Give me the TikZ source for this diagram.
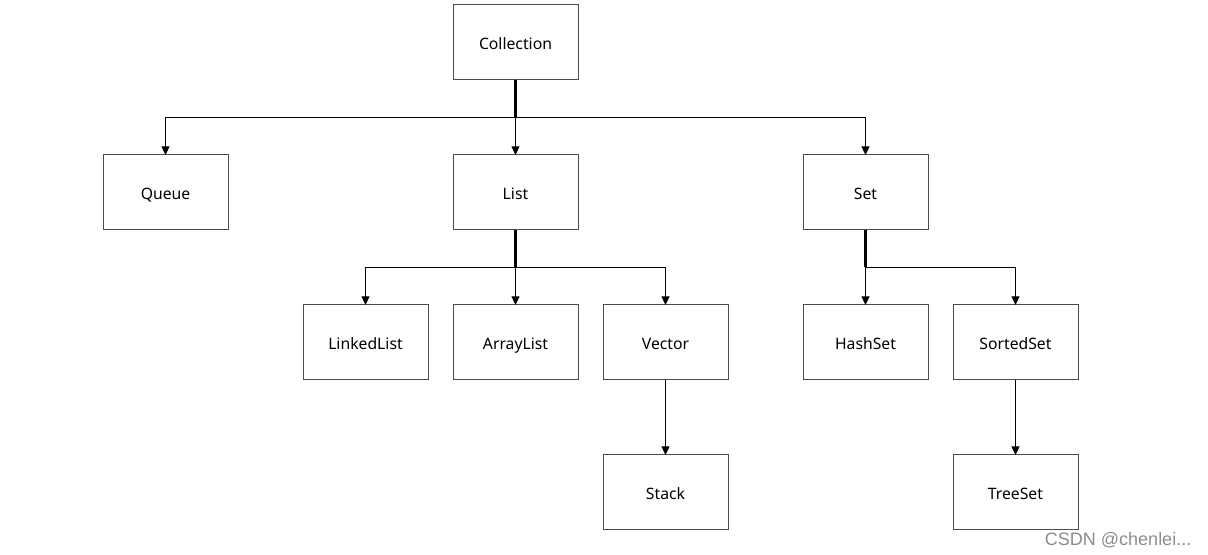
\documentclass[tikz,border=0pt]{standalone}
\usepackage{fontspec}
\setmainfont{Noto Sans}
\newfontfamily\markfont{Liberation Sans}
\usetikzlibrary{positioning,arrows.meta,calc}
\begin{document}
\begin{tikzpicture}[x=0.75pt, y=-0.75pt, node distance=56.25pt and 18.75pt,
    box/.style={draw=black!70, line width=0.75pt, minimum width=93.75pt, minimum height=56.25pt,
      inner sep=0pt, outer sep=0pt, text height=10.5pt, text depth=0.5pt,
      font=\fontsize{11.8}{13}\selectfont},
    link/.style={-{Triangle[length=6.5pt,width=6pt]}, line width=0.75pt},
    trunk/.style={line width=2pt}]
      \useasboundingbox (0,0) rectangle (1208,555);

      \node [box] (coll) at (515.5,42.5) {Collection};
      \node [box, below=of coll] (list) {List};
      \node [box, left=168.75pt of list] (queue) {Queue};
      \node [box, right=168.75pt of list] (set) {Set};

      \node [box, below=of list] (alist) {ArrayList};
      \node [box, left=of alist] (llist) {LinkedList};
      \node [box, right=of alist] (vec) {Vector};
      \node [box, below=of set] (hset) {HashSet};
      \node [box, right=of hset] (sset) {SortedSet};

      \node [box, below=of vec] (stack) {Stack};
      \node [box, below=of sset] (tset) {TreeSet};

      \coordinate (cj) at ($(coll.south)!0.5!(list.north)$);
      \coordinate (lj) at ($(list.south)!0.5!(alist.north)$);
      \coordinate (sj) at ($(set.south)!0.5!(hset.north)$);

      \draw [trunk] (coll.south) -- (cj);
      \draw [link] (cj) -| (queue.north);
      \draw [link] (cj) -- (list.north);
      \draw [link] (cj) -| (set.north);

      \draw [trunk] (list.south) -- (lj);
      \draw [link] (lj) -| (llist.north);
      \draw [link] (lj) -- (alist.north);
      \draw [link] (lj) -| (vec.north);

      \draw [trunk] (set.south) -- (sj);
      \draw [link] (sj) -- (hset.north);
      \draw [link] (sj) -| (sset.north);

      \draw [link] (vec) -- (stack);
      \draw [link] (sset) -- (tset);

      \node [text=black!45, font=\markfont\fontsize{13.5}{15}\selectfont, anchor=east] (mark) at (1196,540) {CSDN @chenlei...};
  \end{tikzpicture}
\end{document}
